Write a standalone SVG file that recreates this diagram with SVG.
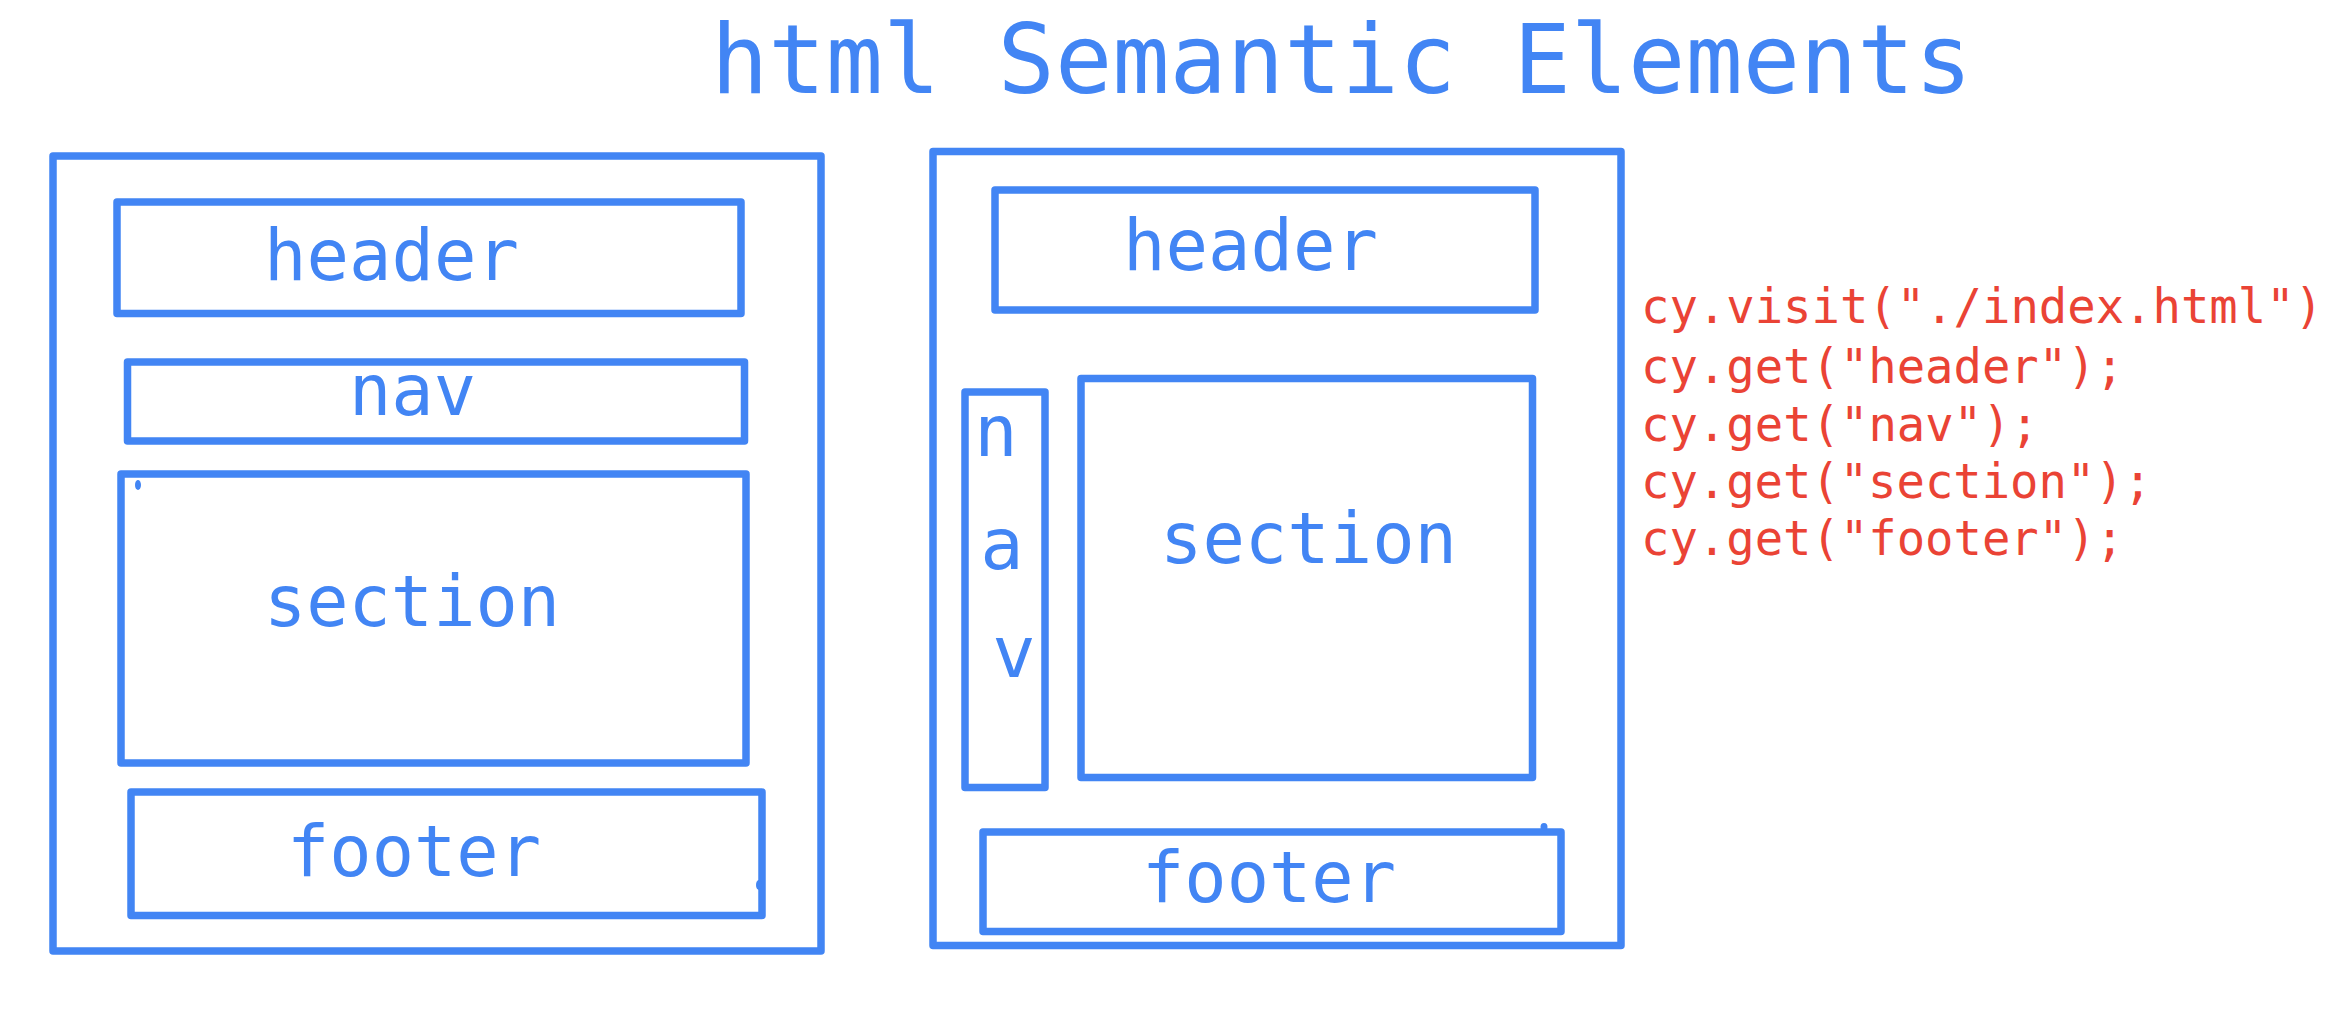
<svg xmlns="http://www.w3.org/2000/svg" width="2350" height="1036" viewBox="0 0 2350 1036">
<style>
.box{fill:none;stroke:#4285F4;stroke-width:7.5;stroke-linejoin:round}
.lbl{font-family:"DejaVu Sans Mono","Liberation Mono",monospace;font-size:72px;fill:#4285F4;text-anchor:middle}
.code{font-family:"DejaVu Sans Mono","Liberation Mono",monospace;font-size:48px;fill:#EA4335}
.dot{fill:#4285F4}
</style>
<rect width="2350" height="1036" fill="#ffffff"/>
<text id="title" x="1341.5" y="93" font-family="DejaVu Sans Mono, Liberation Mono, monospace" font-size="96" fill="#4285F4" text-anchor="middle" textLength="1261" lengthAdjust="spacingAndGlyphs">html Semantic Elements</text>

<g id="left-layout">
  <rect class="box" x="53" y="156" width="768" height="795"/>
  <g id="left-header">
    <rect class="box" x="117" y="202" width="624" height="111.5"/>
    <text class="lbl" x="391.5" y="280" textLength="255" lengthAdjust="spacingAndGlyphs">header</text>
  </g>
  <g id="left-nav">
    <rect class="box" x="127.5" y="362" width="617" height="79"/>
    <text class="lbl" x="412.5" y="415" textLength="127" lengthAdjust="spacingAndGlyphs">nav</text>
  </g>
  <g id="left-section">
    <rect class="box" x="121" y="474" width="625" height="289"/>
    <ellipse class="dot" cx="138" cy="485" rx="3" ry="5"/>
    <text class="lbl" x="412" y="626" textLength="296" lengthAdjust="spacingAndGlyphs">section</text>
  </g>
  <g id="left-footer">
    <rect class="box" x="131" y="792" width="631" height="123.5"/>
    <ellipse class="dot" cx="759" cy="885" rx="3" ry="5"/>
    <text class="lbl" x="414" y="876" textLength="254" lengthAdjust="spacingAndGlyphs">footer</text>
  </g>
</g>

<g id="right-layout">
  <rect class="box" x="933" y="151.5" width="688" height="794"/>
  <g id="right-header">
    <rect class="box" x="995" y="190" width="540" height="120"/>
    <text class="lbl" x="1250.5" y="270" textLength="255" lengthAdjust="spacingAndGlyphs">header</text>
  </g>
  <g id="right-nav">
    <rect class="box" x="965" y="392" width="80" height="395.5"/>
    <text class="lbl" x="996" y="456">n</text>
    <text class="lbl" x="1002" y="569">a</text>
    <text class="lbl" x="1014" y="677">v</text>
  </g>
  <g id="right-section">
    <rect class="box" x="1081" y="378.5" width="451.5" height="399"/>
    <text class="lbl" x="1308.5" y="563" textLength="297" lengthAdjust="spacingAndGlyphs">section</text>
  </g>
  <g id="right-footer">
    <rect class="box" x="983" y="832" width="578" height="99.5"/>
    <ellipse class="dot" cx="1544" cy="827" rx="3.5" ry="4"/>
    <text class="lbl" x="1269" y="902" textLength="254" lengthAdjust="spacingAndGlyphs">footer</text>
  </g>
</g>

<g id="code">
  <text class="code" x="1641" y="323" textLength="682" lengthAdjust="spacingAndGlyphs">cy.visit("./index.html")</text>
  <text class="code" x="1641" y="383" textLength="483" lengthAdjust="spacingAndGlyphs">cy.get("header");</text>
  <text class="code" x="1641" y="441" textLength="398" lengthAdjust="spacingAndGlyphs">cy.get("nav");</text>
  <text class="code" x="1641" y="498" textLength="511" lengthAdjust="spacingAndGlyphs">cy.get("section");</text>
  <text class="code" x="1641" y="555" textLength="483" lengthAdjust="spacingAndGlyphs">cy.get("footer");</text>
</g>

<g id="connectors"></g>
</svg>
